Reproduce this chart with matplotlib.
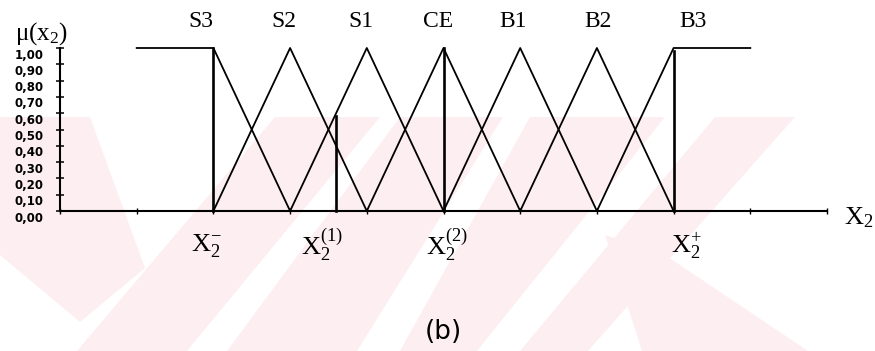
import matplotlib
matplotlib.use('Agg')
import matplotlib.pyplot as plt
from matplotlib.patches import Polygon
from matplotlib.transforms import ScaledTranslation

plt.rcParams['mathtext.fontset'] = 'custom'
plt.rcParams['mathtext.rm'] = 'Liberation Serif'
plt.rcParams['mathtext.it'] = 'Liberation Serif:italic'
plt.rcParams['mathtext.bf'] = 'Liberation Serif:bold'

# fuzzy sets of X2: name, breakpoints (x) and membership values (mu)
set_names = ['S3', 'S2', 'S1', 'CE', 'B1', 'B2', 'B3']
set_x = [[-1, 0, 1], [0, 1, 2], [1, 2, 3], [2, 3, 4],
         [3, 4, 5], [4, 5, 6], [5, 6, 7]]
set_mu = [[1, 1, 0], [0, 1, 0], [0, 1, 0], [0, 1, 0],
          [0, 1, 0], [0, 1, 0], [0, 1, 1]]
label_x = [-0.16, 0.92, 1.93, 2.93, 3.91, 5.01, 6.25]

# reference points on the X2 axis and the height of their markers
point_x = [0, 1.6, 3, 6]
point_h = [1.0, 0.58, 1.0, 0.98]
point_labels = [r'$\mathrm{X_2^{-}}$', r'$\mathrm{X_2^{(1)}}$',
                r'$\mathrm{X_2^{(2)}}$', r'$\mathrm{X_2^{+}}$']
point_label_x = [-0.09, 1.42, 3.05, 6.17]

y_ticks = [i / 10 for i in range(11)]
y_ticklabels = ['%.2f' % v for v in y_ticks]
y_ticklabels = [s.replace('.', ',') for s in y_ticklabels]
x_ticks = list(range(-2, 9))

W, H = 875, 351
fig = plt.figure(figsize=(W / 100, H / 100), dpi=100)

# light background stamp (pixel polygons, y measured from the top)
stamp = [
    [(0, 117), (90, 117), (145, 268), (80, 322), (0, 255)],
    [(275, 117), (380, 117), (187, 351), (77, 351)],
    [(400, 117), (503, 117), (357, 351), (227, 351)],
    [(530, 117), (665, 117), (477, 351), (400, 351)],
    [(715, 117), (795, 117), (588, 351), (520, 351)],
    [(605, 235), (665, 255), (808, 351), (642, 351)],
]
for poly in stamp:
    pts = [(px / W, 1 - py / H) for px, py in poly]
    fig.add_artist(Polygon(pts, closed=True, transform=fig.transFigure,
                           facecolor='#fdeef1', edgecolor='none', zorder=0))

ax = fig.add_axes([60 / W, 140 / H, 767 / W, 163 / H])
ax.patch.set_visible(False)
ax.set_xlim(-2, 8)
ax.set_ylim(0, 1)

for xs, mus in zip(set_x, set_mu):
    ax.plot(xs, mus, color='black', lw=1.3, clip_on=False, zorder=3)

for px, ph in zip(point_x, point_h):
    ax.plot([px, px], [0, ph], color='black', lw=1.9, clip_on=False, zorder=3)

for name, lx in zip(set_names, label_x):
    ax.text(lx, 1.16, name, ha='center', va='center', fontsize=17,
            family='Liberation Serif', clip_on=False)

for lab, lx in zip(point_labels, point_label_x):
    ax.text(lx, -0.21, lab, ha='center', va='center', fontsize=19,
            clip_on=False)

ax.text(8.41, -0.04, r'$\mathrm{X_2}$', ha='center', va='center',
        fontsize=19, clip_on=False)
ax.text(-2.24, 1.09, r'$\mathrm{\mu(x_2)}$', ha='center', va='center',
        fontsize=18, clip_on=False)
ax.text(3.0, -0.74, '(b)', ha='center', va='center', fontsize=19,
        family='DejaVu Sans', clip_on=False)

# axes: only the left and bottom lines, ticks crossing them
for side in ['top', 'right']:
    ax.spines[side].set_visible(False)
for side in ['left', 'bottom']:
    ax.spines[side].set_linewidth(1.5)
ax.set_xticks(x_ticks)
ax.set_xticklabels([])
ax.tick_params(axis='x', direction='inout', length=4, width=1.0)
ax.set_yticks(y_ticks)
ax.set_yticklabels(y_ticklabels, fontsize=8.5, fontweight='bold',
                   family='DejaVu Sans')
ax.tick_params(axis='y', direction='inout', length=6, width=1.1, pad=9)
shift = ScaledTranslation(0, -4 / 72, fig.dpi_scale_trans)
for lab in ax.get_yticklabels():
    lab.set_transform(lab.get_transform() + shift)

fig.savefig('out.png', dpi=100, facecolor='white')
